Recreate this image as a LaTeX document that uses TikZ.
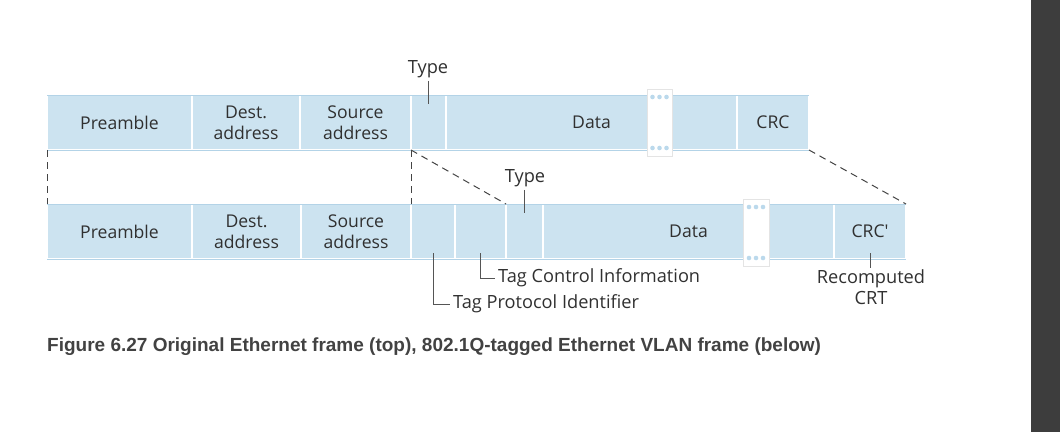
\documentclass[tikz,border=0pt]{standalone}
\usepackage{fontspec}
\setmainfont{Open Sans}
\newfontfamily\capfont{Liberation Sans}
\definecolor{fblue}{HTML}{CCE3F0}
\definecolor{edgec}{HTML}{B3D3E7}
\definecolor{txt}{HTML}{303030}
\definecolor{gapline}{HTML}{E4E4E4}
\definecolor{dotc}{HTML}{BBD9EC}
\definecolor{tickc}{HTML}{555555}
\definecolor{dashc}{HTML}{444444}
\definecolor{capc}{HTML}{424242}
\definecolor{barc}{HTML}{3D3D3D}
\begin{document}
\begin{tikzpicture}[x=1pt,y=-1pt,
  field/.style={rectangle, fill=fblue, draw=white, line width=1.6pt, outer sep=0pt, inner sep=0pt,
    minimum height=55pt, text=txt, font=\fontsize{17.6}{21}\selectfont, align=center},
  edge/.style={draw=edgec, line width=0.8pt},
  gapbox/.style={rectangle, fill=white, draw=gapline, line width=0.7pt, inner sep=0pt, outer sep=0pt,
    minimum height=67pt},
  dot/.style={circle, fill=dotc, inner sep=0pt, minimum size=4.6pt},
  lbl/.style={text=txt, font=\fontsize{18.2}{21}\selectfont, inner sep=0pt, align=center},
  tick/.style={draw=tickc, line width=0.9pt},
  dashline/.style={draw=dashc, line width=1pt, dash pattern=on 7pt off 5pt}]
\useasboundingbox (0,0) rectangle (1060,432);
\fill[barc] (1031,0) rectangle (1060,432);

% top frame
\node[field, minimum width=145pt] (pre1) at (119.5,122.5) {Preamble};
\node[field, minimum width=108pt] (dst1) at (246,122.5) {Dest.\\address};
\node[field, minimum width=111pt] (src1) at (355.5,122.5) {Source\\address};
\node[field, minimum width=35pt] (typ1) at (428.5,122.5) {};
\node[field, minimum width=291pt] (dat1) at (591.5,122.5) {Data};
\node[field, minimum width=72pt] (crc1) at (773,122.5) {CRC};
\draw[edge] (pre1.north west) -- (crc1.north east);
\draw[edge] (pre1.south west) -- (crc1.south east);

% bottom frame
\node[field, minimum width=145pt] (pre2) at (119.5,231.5) {Preamble};
\node[field, minimum width=109pt] (dst2) at (246.5,231.5) {Dest.\\address};
\node[field, minimum width=110pt] (src2) at (356,231.5) {Source\\address};
\node[field, minimum width=44pt] (tpi) at (433,231.5) {};
\node[field, minimum width=51pt] (tci) at (480.5,231.5) {};
\node[field, minimum width=37pt] (typ2) at (524.5,231.5) {};
\node[field, minimum width=291pt] (dat2) at (688.5,231.5) {Data};
\node[field, minimum width=72pt] (crc2) at (870,231.5) {CRC\textquotesingle};
\draw[edge] (pre2.north west) -- (crc2.north east);
\draw[edge] (pre2.south west) -- (crc2.south east);

% gaps
\node[gapbox, minimum width=25pt] (gap1) at (659.5,122.5) {};
\node[gapbox, minimum width=26pt] (gap2) at (756,232.5) {};
\foreach \g in {gap1,gap2}{
  \foreach \dx in {-7,0,7}{
    \node[dot] at ([xshift=\dx pt, yshift=-8pt]\g.north) {};
    \node[dot] at ([xshift=\dx pt, yshift=8pt]\g.south) {};
  }
}

% dashed connectors
\draw[dashline] (pre1.south west) -- (pre2.north west);
\draw[dashline] (src1.south east) -- (src2.north east);
\draw[dashline] (src1.south east) -- (typ2.north west);
\draw[dashline] (crc1.south east) -- (crc2.north east);

% labels
\node[lbl] (t1) at (428,69) {Type};
\draw[tick] ([yshift=-3pt]typ1.north |- t1.south) -- ([yshift=-9pt]typ1.north);
\node[lbl] (t2) at (525,178) {Type};
\draw[tick] ([yshift=-3pt]typ2.north |- t2.south) -- ([yshift=-9pt]typ2.north);

\node[lbl, anchor=west] (tcil) at (498,278) {Tag Control Information};
\draw[tick] ([yshift=6pt]tci.south) |- ([xshift=-3pt]tcil.west);
\node[lbl, anchor=west] (tpil) at (453,304) {Tag Protocol Identifier};
\draw[tick] ([yshift=6pt]tpi.south) |- ([xshift=-3pt]tpil.west);

\node[lbl] (rc) at (871,287.5) {Recomputed\\CRT};
\draw[tick] ([yshift=6pt]crc2.south) -- ([yshift=2pt]crc2.south |- rc.north);

% caption
\node[anchor=west, inner sep=0pt, text=capc, font=\capfont\bfseries\fontsize{19}{22}\selectfont] (cap) at (47,347)
  {Figure 6.27 Original Ethernet frame (top), 802.1Q-tagged Ethernet VLAN frame (below)};
\end{tikzpicture}
\end{document}
